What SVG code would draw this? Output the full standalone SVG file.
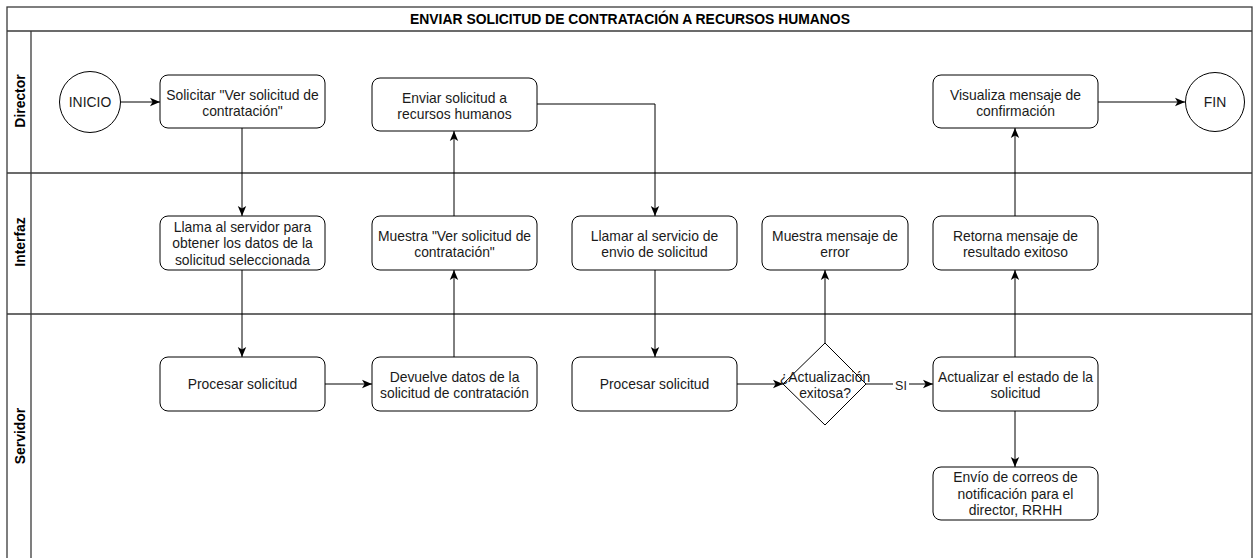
<svg xmlns="http://www.w3.org/2000/svg" width="1253" height="558" viewBox="0 0 1253 558">
  <style>
    .lane { fill: none; stroke: #3a3a3a; stroke-width: 1.3; }
    .node { fill: #ffffff; stroke: #000000; stroke-width: 1; }
    .txt { font-family: "Liberation Sans", Arial, sans-serif; font-size: 13.9px; fill: #1a1a1a; text-anchor: middle; }
    .title { font-family: "Liberation Sans", Arial, sans-serif; font-size: 13.9px; font-weight: bold; fill: #000; text-anchor: middle; }
    .lbl { font-family: "Liberation Sans", Arial, sans-serif; font-size: 13.9px; font-weight: bold; fill: #000; text-anchor: middle; }
    .edge { fill: none; stroke: #000000; stroke-width: 1; marker-end: url(#arrow); }
  </style>
  <defs>
    <marker id="arrow" markerUnits="userSpaceOnUse" markerWidth="12" markerHeight="12" refX="10" refY="5" orient="auto">
      <path d="M0,0.8 L10,5 L0,9.2 L2.6,5 z" fill="#000"/>
    </marker>
  </defs>

  <rect width="1253" height="558" fill="#ffffff"/>

  <!-- pool with title band and three swimlanes -->
  <g id="pool">
    <rect class="lane" x="7" y="7" width="1245" height="570"/>
    <line class="lane" x1="7" y1="31" x2="1252" y2="31"/>
    <line class="lane" x1="31" y1="31" x2="31" y2="558"/>
    <line class="lane" x1="7" y1="173" x2="1252" y2="173"/>
    <line class="lane" x1="7" y1="314" x2="1252" y2="314"/>
    <text class="title" x="630" y="24">ENVIAR SOLICITUD DE CONTRATACIÓN A RECURSOS HUMANOS</text>
    <text class="lbl" transform="translate(24.5,101) rotate(-90)">Director</text>
    <text class="lbl" transform="translate(24.5,242) rotate(-90)">Interfaz</text>
    <text class="lbl" transform="translate(24.5,436) rotate(-90)">Servidor</text>
  </g>

  <!-- connectors -->
  <g id="connectors">
    <line class="edge" x1="121" y1="102" x2="160" y2="102"/>
    <line class="edge" x1="242" y1="128" x2="242" y2="216"/>
    <line class="edge" x1="242" y1="270" x2="242" y2="357"/>
    <line class="edge" x1="325" y1="384" x2="372" y2="384"/>
    <line class="edge" x1="454" y1="357" x2="454" y2="270"/>
    <line class="edge" x1="454" y1="216" x2="454" y2="131"/>
    <polyline class="edge" points="537,104 655,104 655,216"/>
    <line class="edge" x1="655" y1="270" x2="655" y2="357"/>
    <line class="edge" x1="737" y1="384" x2="783" y2="384"/>
    <line class="edge" x1="825" y1="343" x2="825" y2="270"/>
    <line class="edge" x1="866" y1="384" x2="933" y2="384"/>
    <rect x="893" y="377" width="16" height="15" fill="#ffffff"/>
    <text class="txt" x="901" y="389.5" style="font-size:12.5px">SI</text>
    <line class="edge" x1="1015" y1="411" x2="1015" y2="467"/>
    <line class="edge" x1="1015" y1="357" x2="1015" y2="270"/>
    <line class="edge" x1="1015" y1="216" x2="1015" y2="128"/>
    <line class="edge" x1="1098" y1="102" x2="1185" y2="102"/>
  </g>

  <!-- Director lane -->
  <g id="inicio">
    <circle class="node" cx="90" cy="102" r="30.5"/>
    <text class="txt" x="90" y="107">INICIO</text>
  </g>
  <g id="solicitar-ver">
    <rect class="node" x="160" y="75" width="165" height="53" rx="8"/>
    <text class="txt" x="242.5" y="99.5">Solicitar "Ver solicitud de</text>
    <text class="txt" x="242.5" y="116">contratación"</text>
  </g>
  <g id="enviar-rrhh">
    <rect class="node" x="372" y="78" width="165" height="53" rx="8"/>
    <text class="txt" x="454.5" y="102.5">Enviar solicitud a</text>
    <text class="txt" x="454.5" y="119">recursos humanos</text>
  </g>
  <g id="visualiza-confirmacion">
    <rect class="node" x="933" y="75" width="165" height="53" rx="8"/>
    <text class="txt" x="1015.5" y="99.5">Visualiza mensaje de</text>
    <text class="txt" x="1015.5" y="116">confirmación</text>
  </g>
  <g id="fin">
    <circle class="node" cx="1215" cy="102" r="29.5" stroke-width="3"/>
    <text class="txt" x="1215" y="107">FIN</text>
  </g>

  <!-- Interfaz lane -->
  <g id="llama-servidor">
    <rect class="node" x="160" y="216" width="165" height="54" rx="8"/>
    <text class="txt" x="242.5" y="231.5">Llama al servidor para</text>
    <text class="txt" x="242.5" y="248">obtener los datos de la</text>
    <text class="txt" x="242.5" y="264.5">solicitud seleccionada</text>
  </g>
  <g id="muestra-ver">
    <rect class="node" x="372" y="216" width="165" height="54" rx="8"/>
    <text class="txt" x="454.5" y="240.5">Muestra "Ver solicitud de</text>
    <text class="txt" x="454.5" y="257">contratación"</text>
  </g>
  <g id="llamar-servicio">
    <rect class="node" x="572" y="216" width="165" height="54" rx="8"/>
    <text class="txt" x="654.5" y="240.5">Llamar al servicio de</text>
    <text class="txt" x="654.5" y="257">envio de solicitud</text>
  </g>
  <g id="muestra-error">
    <rect class="node" x="762" y="216" width="146" height="54" rx="8"/>
    <text class="txt" x="835" y="240.5">Muestra mensaje de</text>
    <text class="txt" x="835" y="257">error</text>
  </g>
  <g id="retorna-exito">
    <rect class="node" x="933" y="216" width="165" height="54" rx="8"/>
    <text class="txt" x="1015.5" y="240.5">Retorna mensaje de</text>
    <text class="txt" x="1015.5" y="257">resultado exitoso</text>
  </g>

  <!-- Servidor lane -->
  <g id="procesar-1">
    <rect class="node" x="160" y="357" width="165" height="54" rx="8"/>
    <text class="txt" x="242.5" y="389">Procesar solicitud</text>
  </g>
  <g id="devuelve-datos">
    <rect class="node" x="372" y="357" width="165" height="54" rx="8"/>
    <text class="txt" x="454.5" y="381.5">Devuelve datos de la</text>
    <text class="txt" x="454.5" y="398">solicitud de contratación</text>
  </g>
  <g id="procesar-2">
    <rect class="node" x="572" y="357" width="165" height="54" rx="8"/>
    <text class="txt" x="654.5" y="389">Procesar solicitud</text>
  </g>
  <g id="actualizacion-exitosa">
    <polygon class="node" points="825,343 866,384 825,425 783,384"/>
    <text class="txt" x="825" y="381.5">¿Actualización</text>
    <text class="txt" x="825" y="398">exitosa?</text>
  </g>
  <g id="actualizar-estado">
    <rect class="node" x="933" y="357" width="165" height="54" rx="8"/>
    <text class="txt" x="1015.5" y="381.5">Actualizar el estado de la</text>
    <text class="txt" x="1015.5" y="398">solicitud</text>
  </g>
  <g id="envio-correos">
    <rect class="node" x="933" y="467" width="165" height="53" rx="8"/>
    <text class="txt" x="1015.5" y="482">Envío de correos de</text>
    <text class="txt" x="1015.5" y="498.5">notificación para el</text>
    <text class="txt" x="1015.5" y="515">director, RRHH</text>
  </g>
</svg>
